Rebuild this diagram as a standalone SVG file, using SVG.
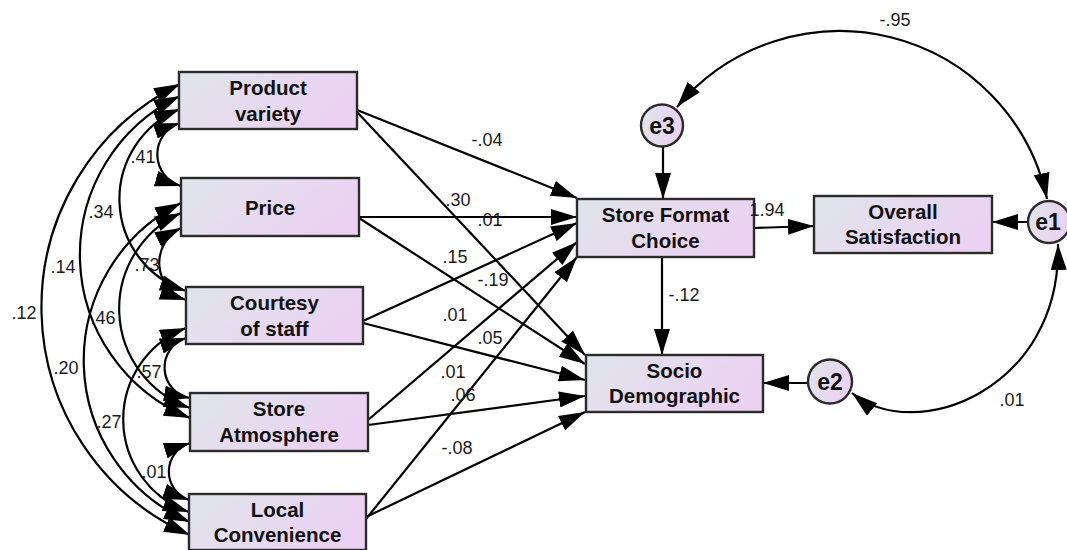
<svg xmlns="http://www.w3.org/2000/svg" width="1067" height="550" viewBox="0 0 1067 550">
<defs>
<linearGradient id="g" x1="0" y1="0" x2="1" y2="0.35">
<stop offset="0" stop-color="#dfe5ea"/>
<stop offset="1" stop-color="#ebd2f2"/>
</linearGradient>
<marker id="ah" markerUnits="userSpaceOnUse" viewBox="0 0 26 16" markerWidth="26" markerHeight="16" refX="26" refY="8" orient="auto-start-reverse">
<path d="M0,0 L26,8 L0,16 z" fill="#000"/>
</marker>
<style>
.box{fill:url(#g);stroke:#2b2b2b;stroke-width:2.4}
.circ{fill:url(#g);stroke:#2b2b2b;stroke-width:2.4}
.nt{font-family:"Liberation Sans",Arial,sans-serif;font-weight:bold;font-size:20.5px;fill:#111;text-anchor:middle}
.ct{font-family:"Liberation Sans",Arial,sans-serif;font-weight:bold;font-size:23px;fill:#111;text-anchor:middle}
.lb{font-family:"Liberation Sans",Arial,sans-serif;font-size:18px;fill:#1a1a1a;text-anchor:middle}
.c{fill:none;stroke:#000;stroke-width:2.2;marker-end:url(#ah)}
.d{fill:none;stroke:#000;stroke-width:2.2;marker-start:url(#ah);marker-end:url(#ah)}
</style>
</defs>
<rect width="1067" height="550" fill="#fff"/>

<g id="connectors">
<path class="c" d="M357 110 L577 198"/>
<path class="c" d="M357 112 L585 355"/>
<path class="c" d="M359 217 L577 217"/>
<path class="c" d="M359 218 L585 364"/>
<path class="c" d="M363 321 L577 223"/>
<path class="c" d="M363 323 L585 380"/>
<path class="c" d="M368 420 L577 242"/>
<path class="c" d="M368 425 L585 396"/>
<path class="c" d="M366 519 L577 257"/>
<path class="c" d="M366 517 L585 412"/>
<path class="c" d="M662 257 L662 355"/>
<path class="c" d="M663 147 L663 199"/>
<path class="c" d="M754 228 L814 226"/>
<path class="c" d="M1028 222 L992 222"/>
<path class="c" d="M808 383 L763 383"/>
<path class="d" d="M677 107 A212 212 0 0 1 1047 199"/>
<path class="d" d="M852 393 C915 445 1062 390 1058 244"/>
<path class="d" d="M180 123 A33 33 0 0 0 181 186"/>
<path class="d" d="M180 109 A97 97 0 0 0 186 291"/>
<path class="d" d="M180 96 A176 176 0 0 0 190 418"/>
<path class="d" d="M180 84 A249 249 0 0 0 190 535"/>
<path class="d" d="M181 228 A39 39 0 0 0 186 300"/>
<path class="d" d="M181 213 A105 105 0 0 0 190 408"/>
<path class="d" d="M181 203 A176 176 0 0 0 190 522"/>
<path class="d" d="M186 338 A31 31 0 0 0 190 398"/>
<path class="d" d="M186 328 A98 98 0 0 0 189 512"/>
<path class="d" d="M190 443 A30 30 0 0 0 189 500"/>
</g>

<g id="product-variety">
<rect class="box" x="179" y="72" width="178" height="57"/>
<text class="nt" x="268" y="95">Product</text>
<text class="nt" x="268" y="121">variety</text>
</g>
<g id="price">
<rect class="box" x="181" y="178" width="178" height="58"/>
<text class="nt" x="270" y="215">Price</text>
</g>
<g id="courtesy-of-staff">
<rect class="box" x="186" y="287" width="177" height="57"/>
<text class="nt" x="274.5" y="310">Courtesy</text>
<text class="nt" x="274.5" y="336">of staff</text>
</g>
<g id="store-atmosphere">
<rect class="box" x="190" y="393" width="178" height="58"/>
<text class="nt" x="279" y="416">Store</text>
<text class="nt" x="279" y="442">Atmosphere</text>
</g>
<g id="local-convenience">
<rect class="box" x="189" y="494" width="177" height="56"/>
<text class="nt" x="277.5" y="517">Local</text>
<text class="nt" x="277.5" y="542">Convenience</text>
</g>
<g id="store-format-choice">
<rect class="box" x="577" y="199" width="177" height="58"/>
<text class="nt" x="665.5" y="222">Store Format</text>
<text class="nt" x="665.5" y="248">Choice</text>
</g>
<g id="overall-satisfaction">
<rect class="box" x="814" y="196" width="178" height="57"/>
<text class="nt" x="903" y="219">Overall</text>
<text class="nt" x="903" y="244">Satisfaction</text>
</g>
<g id="socio-demographic">
<rect class="box" x="586" y="355" width="177" height="57"/>
<text class="nt" x="674.5" y="378">Socio</text>
<text class="nt" x="674.5" y="403">Demographic</text>
</g>
<g id="e3">
<circle class="circ" cx="662" cy="125.5" r="21"/>
<text class="ct" x="662" y="133.5">e3</text>
</g>
<g id="e1">
<circle class="circ" cx="1049" cy="222" r="21"/>
<text class="ct" x="1048" y="230">e1</text>
</g>
<g id="e2">
<circle class="circ" cx="830" cy="381.5" r="22"/>
<text class="ct" x="830" y="390">e2</text>
</g>

<g id="labels">
<text class="lb" x="143" y="163">.41</text>
<text class="lb" x="101" y="218">.34</text>
<text class="lb" x="63" y="273">.14</text>
<text class="lb" x="24" y="319">.12</text>
<text class="lb" x="147" y="271">.73</text>
<text class="lb" x="103" y="324">.46</text>
<text class="lb" x="66" y="374">.20</text>
<text class="lb" x="149" y="378">.57</text>
<text class="lb" x="109" y="428">.27</text>
<text class="lb" x="154" y="478">.01</text>
<text class="lb" x="487" y="146">-.04</text>
<text class="lb" x="458" y="206">.30</text>
<text class="lb" x="490" y="226">.01</text>
<text class="lb" x="455" y="263">.15</text>
<text class="lb" x="493" y="286">-.19</text>
<text class="lb" x="455" y="321">.01</text>
<text class="lb" x="490" y="344">.05</text>
<text class="lb" x="453" y="378">.01</text>
<text class="lb" x="463" y="401">.06</text>
<text class="lb" x="457" y="454">-.08</text>
<text class="lb" x="684" y="301">-.12</text>
<text class="lb" x="895" y="26">-.95</text>
<text class="lb" x="767" y="216">1.94</text>
<text class="lb" x="1012" y="406">.01</text>
</g>
</svg>
